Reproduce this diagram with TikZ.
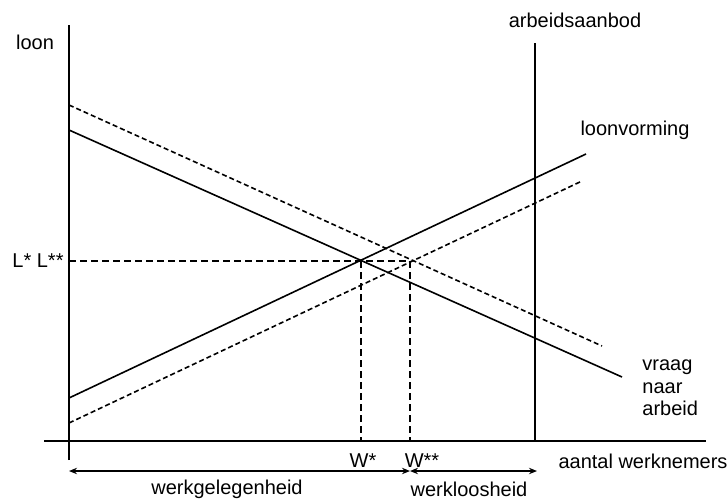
\documentclass[tikz,border=0pt]{standalone}
\usepackage{fontspec}
\setmainfont{Liberation Sans}
\usetikzlibrary{arrows.meta,positioning}

\begin{document}
\begin{tikzpicture}[x=0.5pt, y=-0.5pt,
    axis/.style={line width=1pt},
    curve/.style={line width=0.8pt},
    shifted/.style={curve, dash pattern=on 2.5pt off 1.5pt},
    guide/.style={line width=0.8pt, dash pattern=on 3.5pt off 2pt},
    span/.style={{Stealth[length=4pt,width=3.2pt]}-{Stealth[length=4pt,width=3.2pt]}, line width=0.8pt},
    lbl/.style={font=\fontsize{10}{11.3}\selectfont, inner sep=1pt}
]
\useasboundingbox (0,0) rectangle (728,499);

% Axes
\coordinate (ytop) at (69,25);
\coordinate (ybot) at (69,460);
\coordinate (xleft) at (44,441);
\coordinate (xright) at (706,441);
\draw[axis] (ybot) -- (ytop);
\draw[axis] (xleft) -- (xright);

% Arbeidsaanbod
\coordinate (aatop) at (535,43);
\coordinate (aabot) at (535,441);
\draw[curve] (aatop) -- (aabot);

% Vraag naar arbeid
\coordinate (vr1) at (69,130);
\coordinate (vr2) at (622,377);
\coordinate (vrs1) at (69,105);
\coordinate (vrs2) at (602,346);
\draw[curve] (vr1) -- (vr2);
\draw[shifted] (vrs1) -- (vrs2);

% Loonvorming
\coordinate (lv1) at (69,398);
\coordinate (lv2) at (586,154);
\coordinate (lvs1) at (69,423);
\coordinate (lvs2) at (582,181);
\draw[curve] (lv1) -- (lv2);
\draw[shifted] (lvs1) -- (lvs2);

% Evenwichten
\coordinate (L) at (69,261);
\coordinate (E1) at (361,261);
\coordinate (E2) at (410,261);
\coordinate (W1) at (361,441);
\coordinate (W2) at (410,441);
\draw[guide] (L) -- (E2);
\draw[guide] (E1) -- (W1);
\draw[guide] (E2) -- (W2);

% Spanwijdte
\coordinate (s0) at (69,471);
\coordinate (s1) at (410,471);
\coordinate (s2) at (537,471);
\draw[span] (s0) -- (s1);
\draw[span] (s1) -- (s2);

% Labels
\node[lbl] (loon) at (35,42) {loon};
\node[lbl] (aanbod) at (575,20) {arbeidsaanbod};
\node[lbl] (vorming) at (635,130) {loonvorming};
\node[lbl] (lonen) at (38,261) {L* L**};
\node[lbl] (wster) at (363,461) {W*};
\node[lbl] (wsterster) at (422,461) {W**};
\node[lbl] (aantal) at (643,461) {aantal werknemers};
\node[lbl] (gelegen) at (227,489) {werkgelegenheid};
\node[lbl] (loos) at (469,489) {werkloosheid};
\node[lbl, align=left, anchor=west] (vraag) at (640,388) {vraag\\naar\\arbeid};

\end{tikzpicture}
\end{document}
